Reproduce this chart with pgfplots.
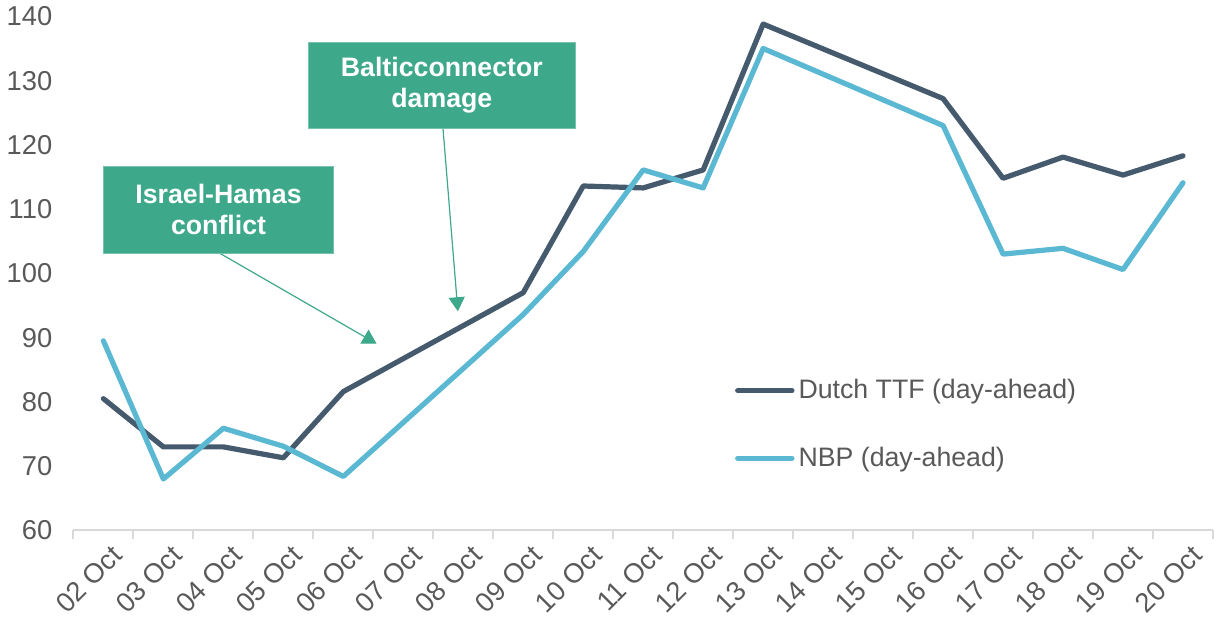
\documentclass[border=0pt]{standalone}
\usepackage{fontspec}
\setmainfont{Liberation Sans}
\usepackage{pgfplots}
\pgfplotsset{compat=1.18}
\usetikzlibrary{arrows.meta}
\definecolor{ttf}{RGB}{70,90,110}
\definecolor{nbp}{RGB}{91,184,210}
\definecolor{boxgreen}{RGB}{61,168,138}
\definecolor{axgray}{RGB}{217,217,217}
\definecolor{txtgray}{RGB}{89,89,89}

\begin{document}
\begin{tikzpicture}
\begin{axis}[
  scale only axis, width=567.5pt, height=256pt,
  xmin=-0.5, xmax=18.5, ymin=60, ymax=140,
  ytick={60,70,...,140},
  axis x line*=bottom, axis y line*=left,
  y axis line style={draw=none},
  x axis line style={axgray, line width=1pt, -},
  xtick={0,...,18},
  xticklabels={02 Oct,03 Oct,04 Oct,05 Oct,06 Oct,07 Oct,08 Oct,09 Oct,10 Oct,11 Oct,12 Oct,13 Oct,14 Oct,15 Oct,16 Oct,17 Oct,18 Oct,19 Oct,20 Oct},
  major tick length=0pt,
  minor xtick={-0.5,0.5,...,18.5},
  minor tick length=4.5pt,
  tick align=outside,
  minor tick style={axgray, line width=1pt},
  ticklabel style={font=\fontsize{13.6}{16}\selectfont, text=txtgray},
  /pgf/number format/assume math mode=true,
  x tick label style={rotate=45, anchor=north east, inner sep=1pt, yshift=-6pt, xshift=-1pt},
  y tick label style={xshift=-7pt},
  legend style={draw=none, fill=none, at={(0.575,0.31)}, anchor=north west,
    font=\fontsize{13.3}{16}\selectfont, text=txtgray, row sep=18.5pt},
  legend cell align=left,
  legend image code/.code={\draw[#1, line cap=round] (0pt,0pt) -- (27pt,0pt);},
  clip=false,
]
\addplot[ttf, line width=2.6pt, line join=round, line cap=round] coordinates {
  (0,80.5) (1,73.0) (2,73.0) (3,71.3) (4,81.6)
  (7,97.0) (8,113.6) (9,113.3) (10,116.1) (11,138.8)
  (14,127.2) (15,114.8) (16,118.1) (17,115.3) (18,118.3)
};
\addlegendentry{Dutch TTF (day-ahead)}
\addplot[nbp, line width=2.6pt, line join=round, line cap=round] coordinates {
  (0,89.5) (1,68.0) (2,75.9) (3,73.1) (4,68.4)
  (7,93.6) (8,103.4) (9,116.1) (10,113.3) (11,135.0)
  (14,123.0) (15,103.0) (16,103.9) (17,100.6) (18,114.1)
};
\addlegendentry{NBP (day-ahead)}

\draw[boxgreen, line width=0.6pt, -{Triangle[width=8pt,length=7pt]}]
  (axis cs:5.66,122.8) -- (axis cs:5.91,94.1);
\draw[boxgreen, line width=0.6pt, -{Triangle[width=8pt,length=7pt]}]
  (axis cs:1.909,103.3) -- (axis cs:4.555,89.06);
\node[fill=boxgreen, draw=boxgreen!70!white, text=white, font=\bfseries\fontsize{13.3}{15.5}\selectfont,
  minimum width=133pt, minimum height=43pt, align=center, inner sep=0pt]
  at (axis cs:5.643,129.3) {Balticconnector\\damage};
\node[fill=boxgreen, draw=boxgreen!70!white, text=white, font=\bfseries\fontsize{13.3}{15.5}\selectfont,
  minimum width=114.5pt, minimum height=43.5pt, align=center, inner sep=0pt]
  at (axis cs:1.92,109.9) {Israel-Hamas\\conflict};
\end{axis}
\end{tikzpicture}
\end{document}
